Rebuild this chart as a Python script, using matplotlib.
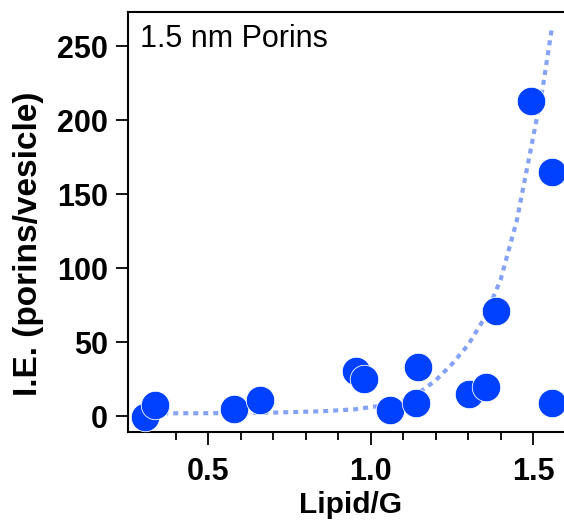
import matplotlib
matplotlib.use("Agg")
import matplotlib.pyplot as plt

# ---------------------------------------------------------------------
# Data
# ---------------------------------------------------------------------
lipid_g = [0.305, 0.336, 0.580, 0.659, 0.954, 0.980, 1.059, 1.141, 1.146,
           1.303, 1.354, 1.385, 1.495, 1.557, 1.557]
ie = [-0.5, 7.4, 4.7, 10.8, 30.4, 25.0, 4.0, 9.0, 32.9,
      14.6, 19.8, 71.0, 213.0, 165.0, 9.0]

# dotted fit curve
fit_x = [0.30, 0.50, 0.70, 0.85, 0.95, 1.05, 1.10, 1.15, 1.20, 1.25,
         1.30, 1.35, 1.40, 1.45, 1.50, 1.53, 1.558]
fit_y = [1.8, 1.9, 2.3, 3.2, 4.5, 7.5, 10.5, 16.0, 24.0, 35.0,
         48.0, 66.0, 92.0, 132.0, 188.0, 222.0, 262.0]

x_ticks = [0.5, 1.0, 1.5]
x_minor = [0.4, 0.6, 0.7, 0.8, 0.9, 1.1, 1.2, 1.3, 1.4, 1.6]
y_ticks = [0, 50, 100, 150, 200, 250]

plt.rcParams['font.family'] = ['Liberation Sans', 'DejaVu Sans']

fig = plt.figure(figsize=(5.64, 5.21), dpi=100)
ax = fig.add_axes([128 / 564, 89 / 521, 444 / 564, 420 / 521])

ax.plot(fit_x, fit_y, color='#85a2f7', lw=3, linestyle=(0, (1.2, 1.2)),
        zorder=2)
ax.scatter(lipid_g, ie, s=420, color='#0040ff', edgecolor='white',
           linewidth=0.6, zorder=3, clip_on=False)

ax.set_xlim(0.253, 1.62)
ax.set_ylim(-10.8, 273)
ax.set_xticks(x_ticks)
ax.set_xticks(x_minor, minor=True)
ax.set_yticks(y_ticks)

ax.spines['right'].set_visible(False)
for side in ['left', 'top', 'bottom']:
    ax.spines[side].set_linewidth(1.5)

ax.tick_params(axis='both', which='major', direction='out', length=9,
               width=1.3, labelsize=22)
ax.tick_params(axis='x', which='major', pad=9)
ax.tick_params(axis='y', which='major', pad=5.4)
ax.tick_params(axis='x', which='minor', direction='out', length=5.5, width=1.3)
for lbl in ax.get_xticklabels() + ax.get_yticklabels():
    lbl.set_fontweight('bold')

ax.set_xlabel('Lipid/G', fontsize=21.5, fontweight='bold')
ax.xaxis.set_label_coords((351 - 128) / 444, -0.14)
ax.set_ylabel('I.E. (porins/vesicle)', fontsize=24, fontweight='bold')
ax.yaxis.set_label_coords(-0.19, 0.448)

ax.text(0.027, 0.9167, '1.5 nm Porins', transform=ax.transAxes,
        fontsize=22, ha='left', va='baseline')

fig.savefig('out.png', dpi=100)
